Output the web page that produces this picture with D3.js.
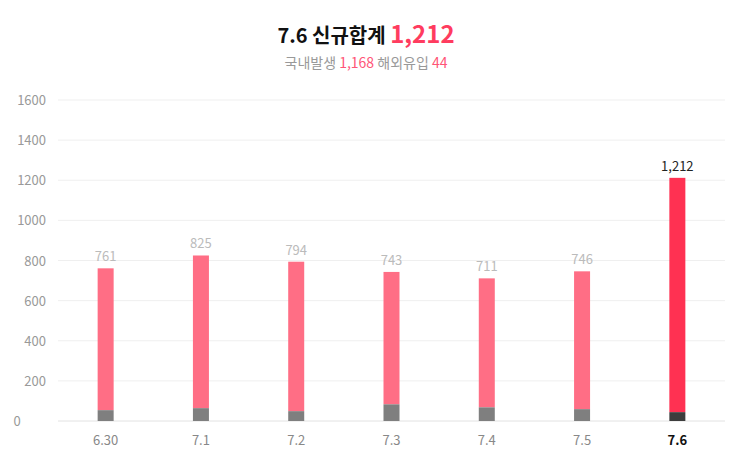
<!DOCTYPE html>
<html><head><meta charset="utf-8">
<script src="https://cdn.jsdelivr.net/npm/d3@7"></script>
<style>body{margin:0;background:#fff;font-family:"Noto Sans CJK KR","Noto Sans",sans-serif}</style>
</head><body><svg id="c" width="736" height="459"></svg>
<script>
const categories=["6.30","7.1","7.2","7.3","7.4","7.5","7.6"];
const totals=[761,825,794,743,711,746,1212];
const overseas=[54,64,49,83,68,59,44];
const yTicks=[0,200,400,600,800,1000,1200,1400,1600];
const svg=d3.select("#c");
const x=d3.scaleBand().domain(categories).range([58,725]).padding(0);
const y=d3.scaleLinear().domain([0,1600]).range([421,100]);
const last=categories.length-1;
svg.append("g").selectAll("line").data(yTicks).join("line")
 .attr("x1",58).attr("x2",725).attr("y1",d=>y(d)).attr("y2",d=>y(d))
 .attr("stroke",(d)=>d===0?"#e2e2e2":"#efefef");
svg.append("g").selectAll("text").data(yTicks).join("text")
 .attr("x",d=>d===0?17:46).attr("y",d=>y(d)+5).attr("text-anchor",d=>d===0?"middle":"end")
 .attr("fill","#999").attr("font-size",13).text(d=>d);
const bw=16;
const cx=d=>x(d)+x.bandwidth()/2;
svg.append("g").selectAll("rect").data(categories).join("rect")
 .attr("x",d=>cx(d)-bw/2).attr("width",bw)
 .attr("y",(d,i)=>y(totals[i])).attr("height",(d,i)=>y(overseas[i])-y(totals[i]))
 .attr("fill",(d,i)=>i===last?"#ff3152":"#ff6e85");
svg.append("g").selectAll("rect").data(categories).join("rect")
 .attr("x",d=>cx(d)-bw/2).attr("width",bw)
 .attr("y",(d,i)=>y(overseas[i])).attr("height",(d,i)=>y(0)-y(overseas[i]))
 .attr("fill",(d,i)=>i===last?"#3d3d3d":"#7f7f7f");
svg.append("g").selectAll("text").data(categories).join("text")
 .attr("x",cx).attr("y",(d,i)=>y(totals[i])-7).attr("text-anchor","middle")
 .attr("font-size",13).attr("fill",(d,i)=>i===last?"#222":"#bbb")
 .text((d,i)=>d3.format(",")(totals[i]));
svg.append("g").selectAll("text").data(categories).join("text")
 .attr("x",cx).attr("y",445).attr("text-anchor","middle").attr("font-size",13)
 .attr("fill",(d,i)=>i===last?"#111":"#888").attr("font-weight",(d,i)=>i===last?"bold":"normal")
 .text(d=>d);
const t=svg.append("text").attr("x",366).attr("y",43).attr("text-anchor","middle");
t.append("tspan").attr("font-size",20).attr("font-weight","bold").attr("fill","#111").text("7.6 신규합계 ");
t.append("tspan").attr("font-size",24).attr("font-weight","bold").attr("fill","#ff3c5f").text("1,212");
const s=svg.append("text").attr("x",366).attr("y",68).attr("text-anchor","middle").attr("font-size",14);
s.append("tspan").attr("fill","#999").text("국내발생 ");
s.append("tspan").attr("fill","#ff5577").text("1,168");
s.append("tspan").attr("fill","#999").text("  해외유입 ");
s.append("tspan").attr("fill","#ff5577").text("44");
</script></body></html>
